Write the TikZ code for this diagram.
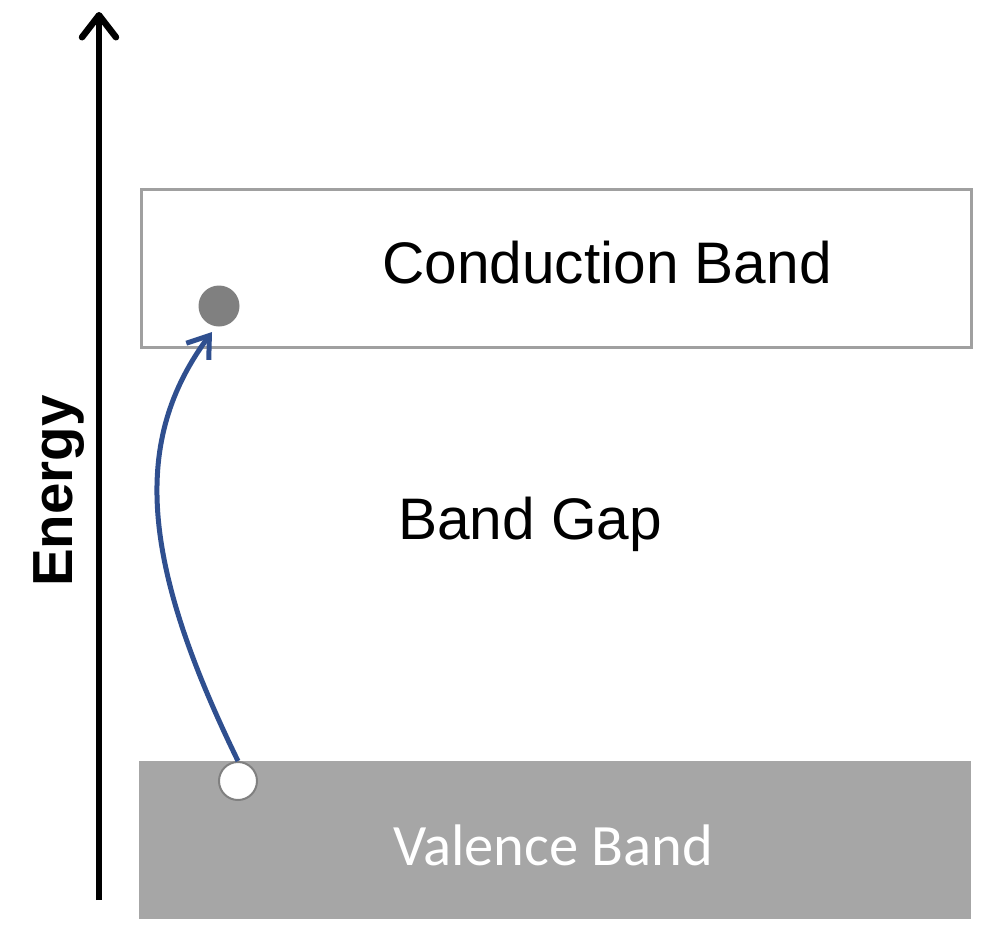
\documentclass[tikz,border=0pt]{standalone}
\usepackage{fontspec}
\setmainfont{Liberation Sans}
\newfontfamily\calib{Carlito}
\usetikzlibrary{arrows.meta}
\definecolor{bandgray}{HTML}{A6A6A6}
\definecolor{boxline}{HTML}{A0A0A0}
\definecolor{dotgray}{HTML}{808080}
\definecolor{arrowblue}{HTML}{2F4F8F}
\tikzset{
  lbl/.style={font=\fontsize{58.6}{60}\selectfont, inner sep=0pt, anchor=base west},
  bandbox/.style={draw=boxline, line width=3pt, fill=white},
}
\begin{document}
\begin{tikzpicture}[x=1pt,y=-1pt]
\useasboundingbox (0,0) rectangle (1002,932);
% bands
\node[bandbox, minimum width=830pt, minimum height=158pt, anchor=north west, inner sep=0pt] (cb) at (140,188) {};
\node[fill=bandgray, minimum width=832pt, minimum height=158pt, anchor=north west, inner sep=0pt] (vb) at (139,761) {};
% labels
\node[lbl] (cbl) at (382,283) {Conduction Band};
\node[lbl] (bg) at (398,539) {Band Gap};
\node[lbl, text=white, font=\calib\fontsize{58.6}{60}\selectfont] (vbl) at (393,865) {Valence Band};
% energy axis
\coordinate (eb) at (99,900);
\coordinate (et) at (99,12);
\draw[line width=6.5pt, -{Straight Barb[length=22pt,width=34pt,line width=6.5pt, round]}] (eb) -- (et);
\node[rotate=90, inner sep=0pt, anchor=base, font=\bfseries\fontsize{56.5}{58}\selectfont] (en) at (72,491) {Energy};
% electron and hole
\node[circle, fill=dotgray, minimum size=41pt, inner sep=0pt] (el) at (219,306) {};
\node[circle, draw=gray, line width=2pt, fill=white, minimum size=38pt, inner sep=0pt] (ho) at (238,781) {};
% excitation arrow
\draw[arrowblue, line width=5pt, -{Straight Barb[length=20pt,width=28pt,line width=5pt]}]
  (ho.north) .. controls (140,560) and (132,440) .. (212,332);
\end{tikzpicture}
\end{document}
